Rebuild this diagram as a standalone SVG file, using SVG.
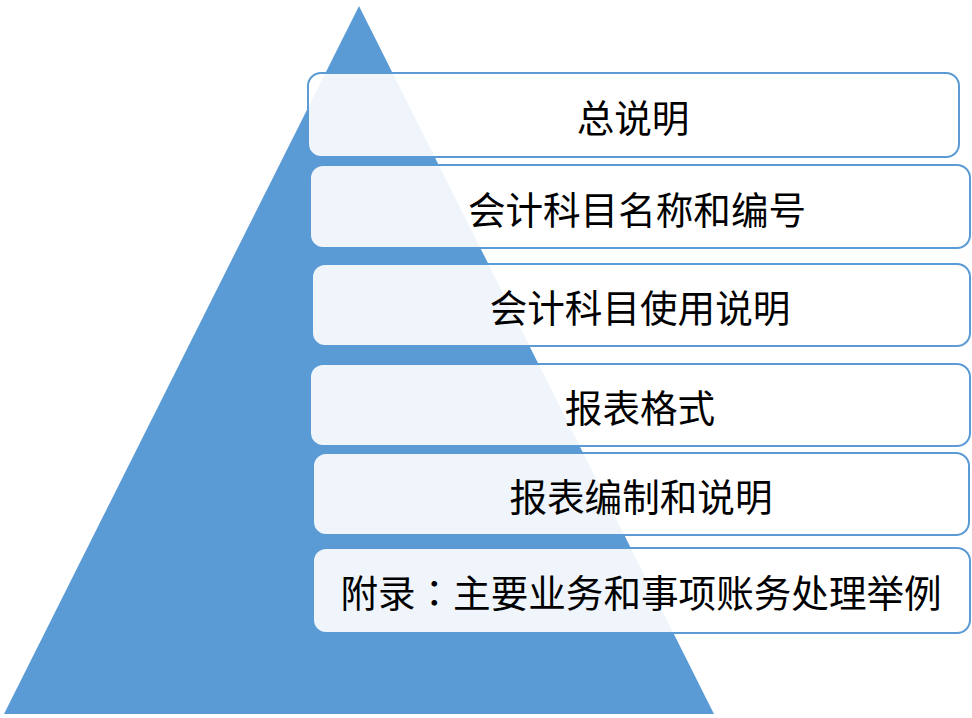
<svg xmlns="http://www.w3.org/2000/svg" width="972" height="718" viewBox="0 0 972 718">
<style>
.box{fill:#ffffff;fill-opacity:0.9;stroke:#5B9BD5;stroke-width:2}
.lbl{font-family:"Noto Sans CJK SC","Noto Sans CJK TC",sans-serif;font-size:37.6px;fill:#000000;text-anchor:middle;dominant-baseline:central}
.tc{font-family:"Noto Sans CJK TC","Noto Sans CJK SC",sans-serif}
</style>
<rect width="972" height="718" fill="#ffffff"/>
<polygon id="pyramid" points="359,6 4,714 714,714" fill="#5B9BD5"/>
<g id="connectors"></g>
<g id="n1"><rect class="box" x="308" y="73" width="651" height="84" rx="13"/><text class="lbl" x="633" y="115">总说明</text></g>
<g id="n2"><rect class="box" x="310" y="165" width="660" height="83" rx="13"/><text class="lbl" x="637" y="207">会计科目名称和编号</text></g>
<g id="n3"><rect class="box" x="312" y="264" width="658" height="82" rx="13"/><text class="lbl" x="640" y="305">会计科目使用说明</text></g>
<g id="n4"><rect class="box" x="310" y="364" width="660" height="82" rx="13"/><text class="lbl" x="640" y="405">报表格式</text></g>
<g id="n5"><rect class="box" x="313" y="453" width="656" height="82" rx="13"/><text class="lbl" x="641" y="494">报表编制和说明</text></g>
<g id="n6"><rect class="box" x="313" y="548" width="657" height="85" rx="13"/><text class="lbl" x="641" y="590">附录<tspan class="tc">：</tspan>主要业务和事项账务处理举例</text></g>
</svg>
